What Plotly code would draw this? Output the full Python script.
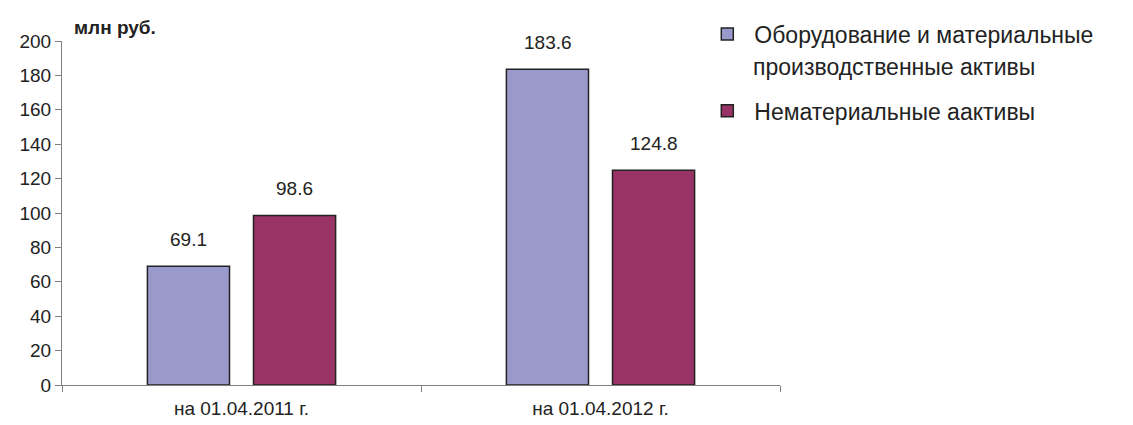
import plotly.graph_objects as go

categories = ["на 01.04.2011 г.", "на 01.04.2012 г."]
series_names = ["Оборудование и материальные", "Нематериальные аактивы"]
series_name_cont = "производственные активы"
tangible = [69.1, 183.6]
intangible = [98.6, 124.8]
y_ticks = list(range(0, 201, 20))

colors = ["#9999CC", "#993366"]
font_family = "Liberation Sans, Arial, sans-serif"

fig = go.Figure()
for i, (name, vals) in enumerate(zip(series_names, [tangible, intangible])):
    fig.add_trace(go.Bar(
        x=categories, y=vals, name=name, legendgroup=f"g{i}",
        marker=dict(color=colors[i], line=dict(color="#222222", width=1.5)),
    ))

# value labels above each bar
shifts = [-53, 53]
for vals, xs in zip([tangible, intangible], shifts):
    for c, v in zip(categories, vals):
        fig.add_annotation(x=c, y=v, text=f"{v:.1f}", showarrow=False,
                           xshift=xs, yshift=27, yanchor="middle",
                           font=dict(size=19, color="#222222"))

fig.add_annotation(xref="paper", yref="paper", x=0.014, y=1.038,
                   xanchor="left", yanchor="middle", text="<b>млн руб.</b>",
                   showarrow=False, font=dict(size=19, color="#222222"))

# second line of the first legend entry, hanging under its text
fig.add_annotation(xref="paper", yref="paper", x=0.9595, y=0.9244,
                   xanchor="left", yanchor="middle", text=series_name_cont,
                   showarrow=False, font=dict(size=23, color="#222222"))

fig.update_layout(
    width=1133, height=425,
    margin=dict(l=62, r=353, t=41, b=40, autoexpand=False),
    paper_bgcolor="white", plot_bgcolor="white",
    font=dict(family=font_family, size=16, color="#222222"),
    barmode="group", bargap=0.409, bargroupgap=0.226,
    showlegend=True,
    legend=dict(x=0.889, y=1.083, xanchor="left", yanchor="top",
                font=dict(size=23, color="#222222"), tracegroupgap=44,
                itemwidth=44),
    xaxis=dict(showline=True, linecolor="#808080", linewidth=1,
               ticks="outside", tickson="boundaries", ticklen=6,
               tickcolor="#808080", tickfont=dict(size=19),
               ticklabelstandoff=6),
    yaxis=dict(range=[0, 200], tickvals=y_ticks, showgrid=False,
               showline=True, linecolor="#808080", linewidth=1,
               ticks="outside", ticklen=6, tickcolor="#808080",
               zeroline=False, tickfont=dict(size=19)),
)

fig.write_html("out.html")
